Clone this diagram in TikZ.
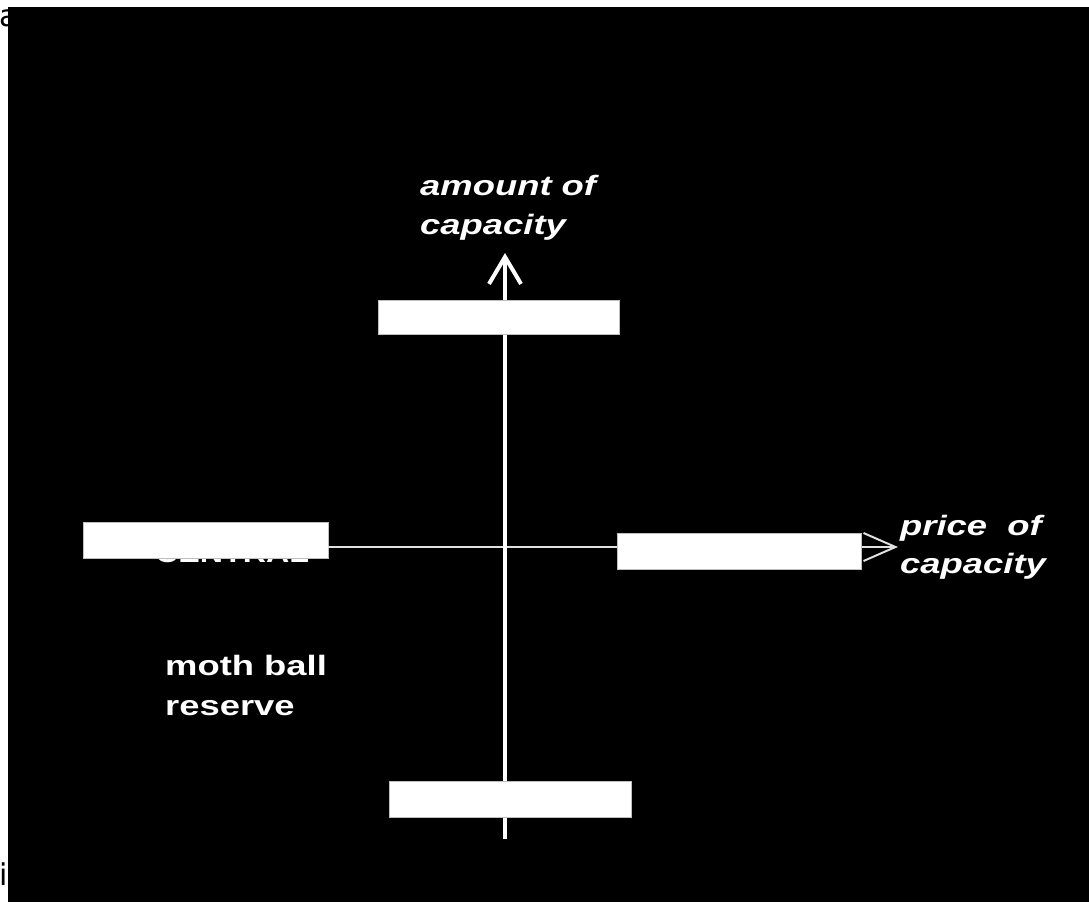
\documentclass[tikz,border=0pt]{standalone}
\usepackage{fontspec}
\usepackage{graphicx}
\setmainfont{Liberation Sans}
\newfontfamily\dvsans{DejaVu Sans}
\usetikzlibrary{arrows.meta}
\newcommand\widetxt[1]{\scalebox{1.3}[1]{#1}}
\begin{document}
\begin{tikzpicture}[x=1pt,y=-1pt,
  bar/.style={fill=white,draw=gray!50,line width=0.8pt,inner sep=0pt,
    minimum height=36pt},
  lbl/.style={text=white,inner sep=0pt,anchor=base west,align=left,
    font=\fontsize{28}{39}\selectfont\bfseries\itshape},
  lblup/.style={lbl,font=\fontsize{28}{40}\selectfont\bfseries},
  edgetxt/.style={text=black,inner sep=0pt,anchor=base west,
    font=\dvsans\fontsize{30}{36}\selectfont}]
\useasboundingbox (0,0) rectangle (1089,902);
\node[edgetxt] (ta) at (-1,27) {a};
\node[edgetxt] (ti) at (-1,885) {i};
\fill[black] (8,7) rectangle (1089,902);
% hidden label behind left bar
\node[lblup] (central) at (155,562) {\scalebox{1.15}[1]{CENTRAL}};
% coordinates of axes
\coordinate (vb) at (505,839);
\coordinate (vt) at (505,253);
\coordinate (ht) at (898,547);
\node[bar,minimum width=245pt] (lbar) at (205.5,540) {};
% axes
\draw[white!88!black,line width=2pt,-{Straight Barb[length=32pt,width=28pt]}]
  (ht -| lbar.east) -- (ht);
\draw[white,line width=4pt,-{Straight Barb[length=27pt,width=32pt]}]
  (vb) -- (vt);
% bars
\node[bar,minimum width=241pt,minimum height=34pt] (tbar) at (498.5,317) {};
\node[bar,minimum width=244pt] (rbar) at (739,551) {};
\node[bar,minimum width=242pt] (bbar) at (510,799) {};
% labels (base anchor = last line's baseline)
\node[lbl] (amount) at (420,234) {\widetxt{amount of}\\\widetxt{capacity}};
\node[lbl,font=\fontsize{28}{38}\selectfont\bfseries\itshape] (price) at (900,573) {\widetxt{price\ \ of}\\\widetxt{capacity}};
\node[lblup] (moth) at (165,715) {\widetxt{moth ball}\\\widetxt{reserve}};
\end{tikzpicture}
\end{document}
